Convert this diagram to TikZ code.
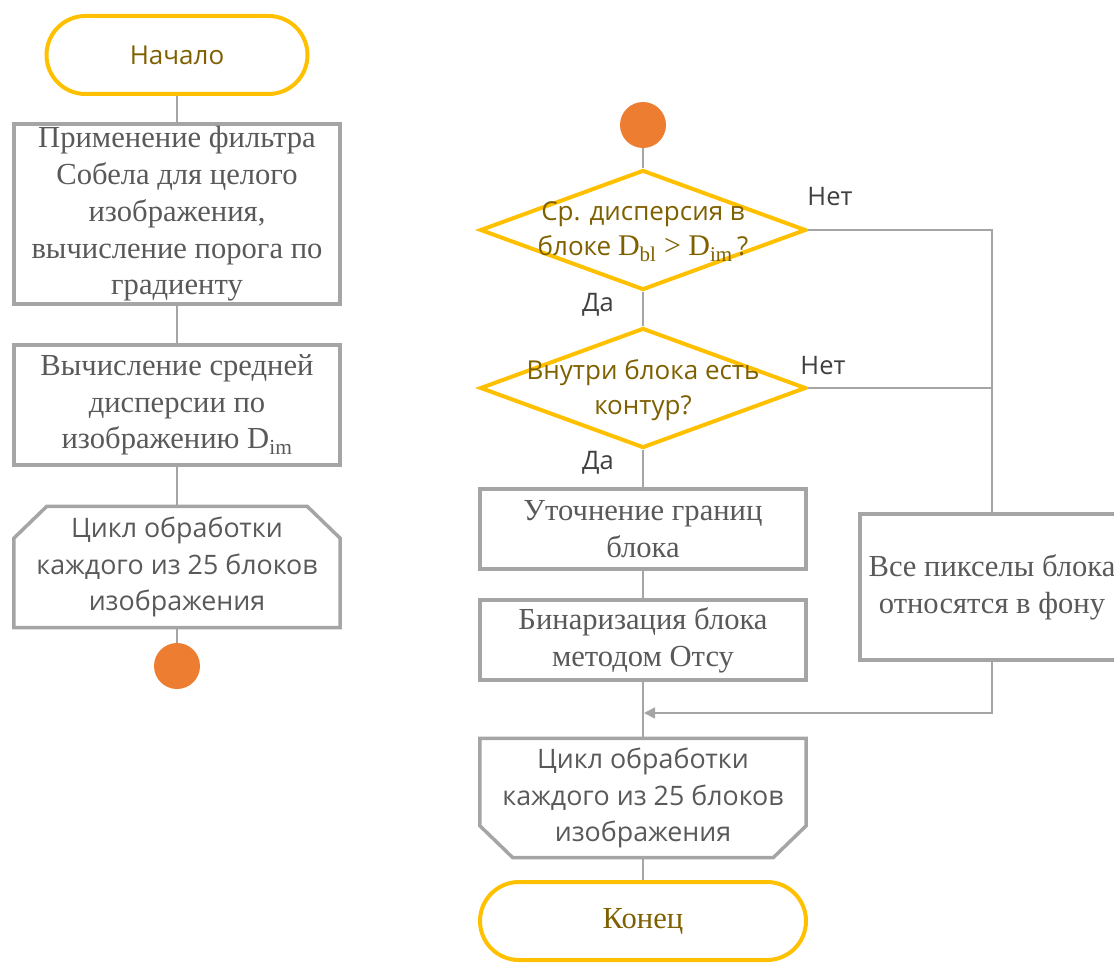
\documentclass[tikz,border=0pt]{standalone}
\usepackage{fontspec}
\setmainfont{Liberation Serif}
\setsansfont{Open Sans}
\usetikzlibrary{shapes.geometric,calc,arrows.meta}

\definecolor{linegray}{HTML}{A5A5A5}
\definecolor{txtgray}{HTML}{595959}
\definecolor{lblgray}{HTML}{404040}
\definecolor{gold}{HTML}{FFC000}
\definecolor{golddark}{HTML}{7F6000}
\definecolor{dotorange}{HTML}{ED7D31}

\begin{document}
\begin{tikzpicture}[x=1pt,y=-1pt]
  \tikzset{
      > = {Triangle[length=11pt,width=11pt]},
      every node/.append style = {
          align = center,
          inner sep = 0pt
      },
      link/.style = {
          draw = linegray,
          line width = 1.5pt
      },
      process/.style = {
          shape = rectangle,
          draw = linegray,
          line width = 3.5pt,
          minimum width = 326pt,
          text = txtgray,
          font = \fontsize{30.6}{36.7}\selectfont
      },
      loopnode/.style = {
          shape = rectangle,
          minimum width = 326pt,
          text = txtgray,
          font = \sffamily\fontsize{26.8}{36.5}\selectfont
      },
      loopline/.style = {
          draw = linegray,
          line width = 3.5pt,
          line join = miter
      },
      terminal/.style = {
          shape = rectangle,
          draw = gold,
          line width = 4pt,
          rounded corners = 39pt,
          minimum height = 78pt,
          text = golddark
      },
      decision/.style = {
          shape = diamond,
          draw = gold,
          line width = 4pt,
          minimum width = 326pt,
          minimum height = 120pt
      },
      dtext/.style = {
          text = golddark,
          font = \sffamily\fontsize{26}{35}\selectfont
      },
      answer/.style = {
          text = lblgray,
          font = \sffamily\fontsize{25.5}{28}\selectfont
      },
      conn/.style = {
          shape = circle,
          fill = dotorange,
          minimum size = 46pt
      }
  }
  \useasboundingbox (0,0) rectangle (1114,963);
  \clip (0,0) rectangle (1114,963);

  % left column
  \node[terminal, minimum width = 261pt, font = \sffamily\fontsize{26}{30}\selectfont] (start) at (177,55) {Начало};
  \node[process, minimum height = 180pt] (sobel) at (177,214) {Применение фильтра\\ Собела для целого\\ изображения,\\ вычисление порога по\\ градиенту};
  \node[process, minimum height = 120pt] (disp) at (177,405) {Вычисление средней\\ дисперсии по\\ изображению D\textsubscript{im}};
  \node[loopnode, minimum height = 121pt] (loopA) at (177,567) {Цикл обработки\\ каждого из 25 блоков\\ изображения};
  \draw[loopline] (loopA.south west) -- ($(loopA.north west)+(0,32)$) -- ($(loopA.north west)+(33,0)$)
      -- ($(loopA.north east)+(-33,0)$) -- ($(loopA.north east)+(0,32)$) -- (loopA.south east) -- cycle;
  \node[conn] (pA) at (177,666) {};

  \path (start) edge[link] (sobel);
  \path (sobel) edge[link] (disp);
  \path (disp) edge[link] (loopA);
  \path (loopA) edge[link] (pA);

  % right column
  \node[conn] (pB) at (643,125) {};
  \node[decision] (dvar) at (643,230) {};
  \node[dtext] (dvar-txt) at (643,232) {Ср. дисперсия в\\ блоке {\rmfamily\fontsize{30}{35}\selectfont D\textsubscript{bl} > D\textsubscript{im}}\,?};
  \node[decision] (dcont) at (643,388) {};
  \node[dtext] (dcont-txt) at (643,390) {Внутри блока есть\\ контур?};
  \node[process, minimum height = 80pt] (refine) at (643,529) {Уточнение границ\\ блока};
  \node[process, minimum height = 80pt] (otsu) at (643,640) {Бинаризация блока\\ методом Отсу};
  \node[loopnode, minimum height = 119pt] (loopB) at (643,798) {Цикл обработки\\ каждого из 25 блоков\\ изображения};
  \draw[loopline] (loopB.north west) -- (loopB.north east) -- ($(loopB.south east)+(0,-32)$)
      -- ($(loopB.south east)+(-33,0)$) -- ($(loopB.south west)+(33,0)$) -- ($(loopB.south west)+(0,-32)$) -- cycle;
  \node[terminal, minimum width = 326pt, font = \fontsize{30.6}{34}\selectfont] (stop) at (643,921) {Конец};
  \node[process, minimum width = 264pt, minimum height = 146pt] (bg) at (992,587) {Все пикселы блока\\ относятся в фону};
  \coordinate (merge) at (644,713);

  \node[answer] (yes1) at (598,305) {Да};
  \node[answer] (yes2) at (598,463) {Да};
  \node[answer] (no1) at (830,197) {Нет};
  \node[answer] (no2) at (823,366) {Нет};

  \path (pB) edge[link] (dvar);
  \path (dvar) edge[link] (dcont);
  \path (dcont) edge[link] (refine);
  \path (refine) edge[link] (otsu);
  \path (otsu) edge[link] (loopB);
  \path (loopB) edge[link] (stop);
  \draw[link] (dvar.east) -| (bg.north);
  \draw[link] (dcont.east) -- (dcont.east -| bg.north);
  \draw[link, ->] (bg.south) |- (merge);
\end{tikzpicture}
\end{document}
